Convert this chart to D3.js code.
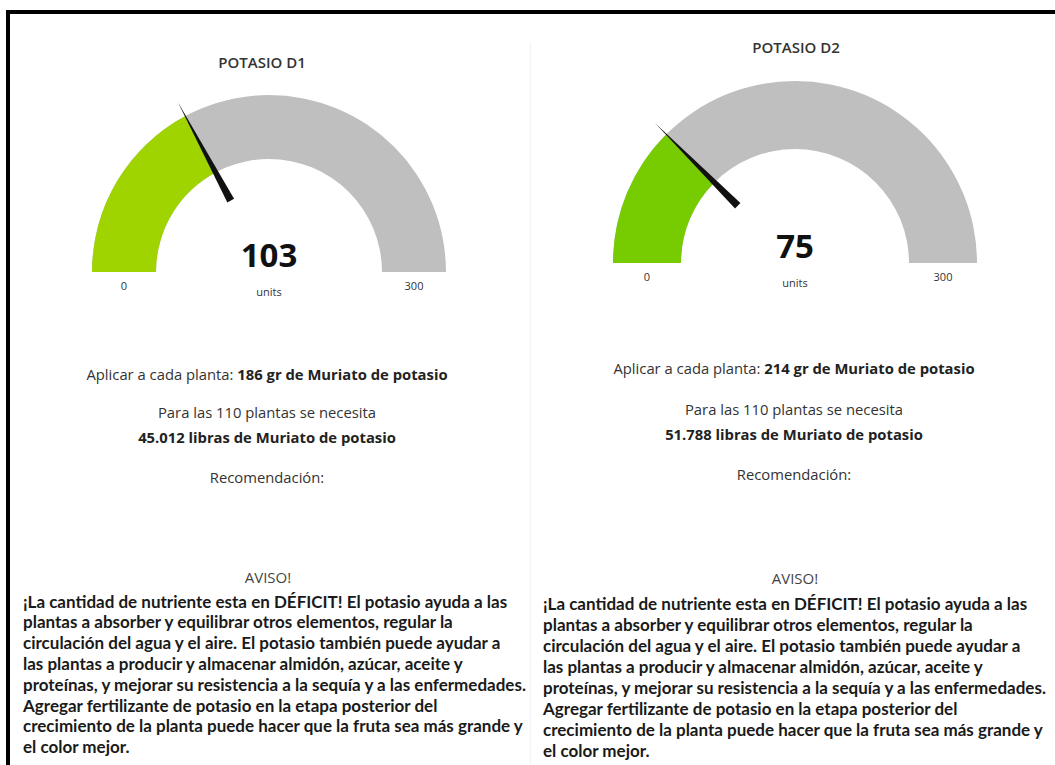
<!DOCTYPE html>
<html>
<head>
<meta charset="utf-8">
<script src="https://cdn.jsdelivr.net/npm/d3@7"></script>
<style>
  html, body { margin: 0; padding: 0; background: #fff; }
  svg { display: block; }
</style>
</head>
<body>
<svg id="chart" width="1055" height="765"></svg>
<script>
// Potassium gauges, one per plot
const gaugeTitles = ["POTASIO D1", "POTASIO D2"];
const gaugeValues = [103, 75];
const gaugeMin = [0, 0];
const gaugeMax = [300, 300];
const gaugeUnits = ["units", "units"];
const gramsPerPlant = [186, 214];
const plantCount = [110, 110];
const poundsTotal = ["45.012", "51.788"];
const noticeLines = [
  "¡La cantidad de nutriente esta en DÉFICIT! El potasio ayuda a las",
  "plantas a absorber y equilibrar otros elementos, regular la",
  "circulación del agua y el aire. El potasio también puede ayudar a",
  "las plantas a producir y almacenar almidón, azúcar, aceite y",
  "proteínas, y mejorar su resistencia a la sequía y a las enfermedades.",
  "Agregar fertilizante de potasio en la etapa posterior del",
  "crecimiento de la planta puede hacer que la fruta sea más grande y",
  "el color mejor."
];

// Panel layout (screen geometry of each card)
const panels = [
  { cx: 269, cy: 272, r: 177, inner: 113, fill: "#9fd400",
    titleX: 262, titleY: 62, textCx: 267, aplicarY: 374, paraY: 412, poundsY: 437, recY: 477,
    avisoY: 577, noteX: 23, noteY: 601, noteStep: 20.8 },
  { cx: 795, cy: 263, r: 182, inner: 114, fill: "#76cc00",
    titleX: 796, titleY: 47, textCx: 794, aplicarY: 368, paraY: 409, poundsY: 434, recY: 474,
    avisoY: 578, noteX: 543, noteY: 603, noteStep: 21 }
];

const svg = d3.select("#chart");
const sans = "'Open Sans', 'Noto Sans', sans-serif";
const noteFont = "Lato, 'Open Sans', sans-serif";
const bodySize = 14.8;

// Outer frame (left and top edges) and faint divider between the cards
svg.append("path")
  .attr("d", "M8,765 V12 H1055")
  .attr("fill", "none").attr("stroke", "#000").attr("stroke-width", 4);
svg.append("line")
  .attr("x1", 530.5).attr("x2", 530.5).attr("y1", 42).attr("y2", 765)
  .attr("stroke", "#f5f5f5").attr("stroke-width", 1.5);

panels.forEach((p, i) => {
  const g = svg.append("g");

  // Title
  g.append("text")
    .attr("x", p.titleX).attr("y", p.titleY)
    .attr("text-anchor", "middle").attr("dominant-baseline", "central")
    .attr("font-family", sans).attr("font-size", 15).attr("font-weight", 600)
    .attr("fill", "#333").text(gaugeTitles[i]);

  const angle = d3.scaleLinear()
    .domain([gaugeMin[i], gaugeMax[i]])
    .range([-Math.PI / 2, Math.PI / 2]);

  const gauge = g.append("g")
    .attr("transform", `translate(${p.cx},${p.cy})`);

  const arc = d3.arc().innerRadius(p.inner).outerRadius(p.r);

  // Background track
  gauge.append("path")
    .attr("d", arc({ startAngle: angle(gaugeMin[i]), endAngle: angle(gaugeMax[i]) }))
    .attr("fill", "#bfbfbf");
  // Value fill
  gauge.append("path")
    .attr("d", arc({ startAngle: angle(gaugeMin[i]), endAngle: angle(gaugeValues[i]) }))
    .attr("fill", p.fill);

  // Needle: tapered wedge pointing at the value
  const a = angle(gaugeValues[i]);
  const dir = [Math.sin(a), -Math.cos(a)];
  const perp = [Math.cos(a), Math.sin(a)];
  const r0 = 81, r1 = p.r + 16, w = 3.8;
  const pts = [
    [dir[0] * r0 + perp[0] * w, dir[1] * r0 + perp[1] * w],
    [dir[0] * r1, dir[1] * r1],
    [dir[0] * r0 - perp[0] * w, dir[1] * r0 - perp[1] * w]
  ];
  gauge.append("path")
    .attr("d", d3.line()(pts) + "Z")
    .attr("fill", "#111");

  // Min / max labels centred under each end of the band
  const mid = (p.r + p.inner) / 2;
  g.append("text")
    .attr("x", p.cx - mid).attr("y", p.cy + 13)
    .attr("text-anchor", "middle").attr("dominant-baseline", "central")
    .attr("font-family", sans).attr("font-size", 11).attr("fill", "#333")
    .text(gaugeMin[i]);
  g.append("text")
    .attr("x", p.cx + mid).attr("y", p.cy + 13)
    .attr("text-anchor", "middle").attr("dominant-baseline", "central")
    .attr("font-family", sans).attr("font-size", 11).attr("fill", "#333")
    .text(gaugeMax[i]);

  // Current value and unit
  g.append("text")
    .attr("x", p.cx).attr("y", p.cy - 5)
    .attr("text-anchor", "middle")
    .attr("font-family", sans).attr("font-size", 33).attr("font-weight", 700)
    .attr("fill", "#111").text(gaugeValues[i]);
  g.append("text")
    .attr("x", p.cx).attr("y", p.cy + 19)
    .attr("text-anchor", "middle").attr("dominant-baseline", "central")
    .attr("font-family", sans).attr("font-size", 11).attr("fill", "#333")
    .text(gaugeUnits[i]);

  // Dose per plant
  const ap = g.append("text")
    .attr("x", p.textCx).attr("y", p.aplicarY)
    .attr("text-anchor", "middle").attr("dominant-baseline", "central")
    .attr("font-family", sans).attr("font-size", bodySize).attr("fill", "#333");
  ap.append("tspan").text("Aplicar a cada planta: ");
  ap.append("tspan").attr("font-weight", 700).attr("fill", "#222")
    .text(`${gramsPerPlant[i]} gr de Muriato de potasio`);

  g.append("text")
    .attr("x", p.textCx).attr("y", p.paraY)
    .attr("text-anchor", "middle").attr("dominant-baseline", "central")
    .attr("font-family", sans).attr("font-size", bodySize).attr("fill", "#333")
    .text(`Para las ${plantCount[i]} plantas se necesita`);
  g.append("text")
    .attr("x", p.textCx).attr("y", p.poundsY)
    .attr("text-anchor", "middle").attr("dominant-baseline", "central")
    .attr("font-family", sans).attr("font-size", bodySize).attr("font-weight", 700)
    .attr("fill", "#222")
    .text(`${poundsTotal[i]} libras de Muriato de potasio`);
  g.append("text")
    .attr("x", p.textCx).attr("y", p.recY)
    .attr("text-anchor", "middle").attr("dominant-baseline", "central")
    .attr("font-family", sans).attr("font-size", bodySize).attr("fill", "#333")
    .text("Recomendación:");

  // Warning block
  g.append("text")
    .attr("x", p.textCx + 1).attr("y", p.avisoY)
    .attr("text-anchor", "middle").attr("dominant-baseline", "central")
    .attr("font-family", sans).attr("font-size", 15).attr("fill", "#444")
    .text("AVISO!");
  g.append("g").selectAll("text")
    .data(noticeLines)
    .join("text")
    .attr("x", p.noteX)
    .attr("y", (d, k) => p.noteY + k * p.noteStep)
    .attr("dominant-baseline", "central")
    .attr("font-family", noteFont).attr("font-size", 17).attr("font-weight", 700)
    .attr("fill", "#1a1a1a")
    .text(d => d);
});
</script>
</body>
</html>
